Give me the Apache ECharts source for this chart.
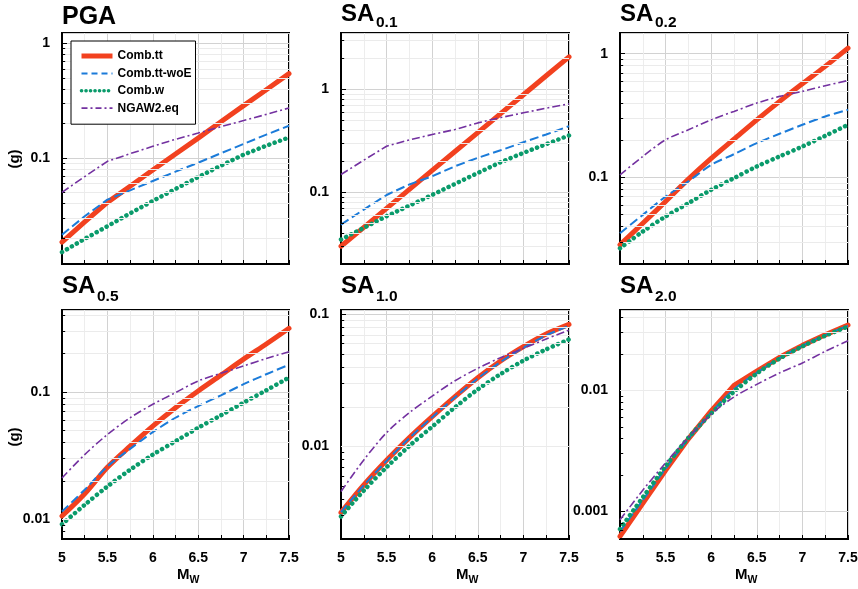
<!DOCTYPE html>
<html><head><meta charset="utf-8">
<script src="https://cdn.jsdelivr.net/npm/echarts@6.0.0/dist/echarts.min.js"></script>
<style>html,body{margin:0;padding:0;background:#fff}#c{width:858px;height:589px}</style>
</head><body><div id="c"></div>
<script>
// ---------- data ----------
const mags = [5, 5.25, 5.5, 5.75, 6, 6.25, 6.5, 6.75, 7, 7.25, 7.5];
const seriesNames = ['Comb.tt', 'Comb.tt-woE', 'Comb.w', 'NGAW2.eq'];
const panelNames = ['PGA', 'SA', 'SA', 'SA', 'SA', 'SA'];
const panelPeriods = ['', '0.1', '0.2', '0.5', '1.0', '2.0'];
const xTitleMain = 'M';
const xTitleSub = 'W';
const yTitle = '(g)';

const pgaCombTT   = [0.0185, 0.0277, 0.0410, 0.0566, 0.0785, 0.1084, 0.149, 0.207, 0.286, 0.394, 0.544];
const pgaCombTTwoE= [0.0214, 0.031, 0.0433, 0.0522, 0.063, 0.076, 0.091, 0.110, 0.1325, 0.160, 0.191];
const pgaCombW    = [0.0151, 0.0197, 0.0254, 0.0329, 0.0422, 0.0537, 0.0682, 0.0857, 0.107, 0.128, 0.151];
const pgaNGAW2    = [0.0502, 0.0688, 0.0935, 0.109, 0.1264, 0.1455, 0.165, 0.1875, 0.212, 0.240, 0.273];

const sa01CombTT   = [0.0298, 0.0455, 0.0697, 0.1065, 0.163, 0.249, 0.3806, 0.582, 0.890, 1.361, 2.08];
const sa01CombTTwoE= [0.0484, 0.0678, 0.094, 0.119, 0.143, 0.179, 0.216, 0.256, 0.307, 0.365, 0.44];
const sa01CombW    = [0.0346, 0.045, 0.0584, 0.0741, 0.0942, 0.1205, 0.154, 0.196, 0.2415, 0.294, 0.357];
const sa01NGAW2    = [0.1486, 0.205, 0.2806, 0.3236, 0.3645, 0.408, 0.473, 0.533, 0.593, 0.658, 0.725];

const sa02CombTT   = [0.02854, 0.0427, 0.064, 0.0969, 0.1425, 0.204, 0.292, 0.412, 0.572, 0.79, 1.11];
const sa02CombTTwoE= [0.0355, 0.0499, 0.0701, 0.0929, 0.1265, 0.1544, 0.1896, 0.2255, 0.2665, 0.311, 0.352];
const sa02CombW    = [0.0268, 0.0366, 0.0484, 0.062, 0.0795, 0.0988, 0.1228, 0.148, 0.178, 0.217, 0.2665];
const sa02NGAW2    = [0.105, 0.148, 0.2017, 0.243, 0.292, 0.342, 0.399, 0.452, 0.496, 0.551, 0.608];

const sa05CombTT   = [0.0106, 0.01585, 0.0256, 0.0375, 0.0539, 0.0752, 0.1018, 0.1355, 0.181, 0.238, 0.316];
const sa05CombTTwoE= [0.0115, 0.01706, 0.026, 0.0357, 0.0483, 0.0627, 0.0775, 0.094, 0.115, 0.1378, 0.1634];
const sa05CombW    = [0.00914, 0.01298, 0.0181, 0.0245, 0.0322, 0.041, 0.0523, 0.0655, 0.0824, 0.103, 0.1298];
const sa05NGAW2    = [0.0211, 0.0322, 0.0463, 0.0627, 0.080, 0.0988, 0.122, 0.140, 0.160, 0.183, 0.207];

const sa10CombTT   = [0.00317, 0.00513, 0.00788, 0.0117, 0.01686, 0.0239, 0.0332, 0.0444, 0.057, 0.071, 0.084];
const sa10CombTTwoE= [0.0032, 0.0051, 0.0078, 0.0116, 0.0167, 0.0236, 0.0328, 0.0437, 0.0560, 0.0695, 0.0820];
const sa10CombW    = [0.00296, 0.00465, 0.00698, 0.01012, 0.01416, 0.01982, 0.0271, 0.0354, 0.0447, 0.0544, 0.0647];
const sa10NGAW2    = [0.00457, 0.00793, 0.01276, 0.01807, 0.0241, 0.0315, 0.0391, 0.0471, 0.0554, 0.0652, 0.0762];

const sa20CombTT   = [0.000625, 0.00117, 0.00219, 0.00398, 0.00678, 0.011, 0.01439, 0.01873, 0.0235, 0.0287, 0.0346];
const sa20CombTTwoE= [0.000686, 0.001245, 0.00226, 0.00398, 0.00657, 0.0102, 0.01394, 0.0185, 0.02335, 0.0285, 0.0342];
const sa20CombW    = [0.000718, 0.00131, 0.00236, 0.00406, 0.00644, 0.00975, 0.01377, 0.01827, 0.02304, 0.0282, 0.0336];
const sa20NGAW2    = [0.000855, 0.0015, 0.00252, 0.0041, 0.00637, 0.00882, 0.0112, 0.01393, 0.01682, 0.02097, 0.02565];

const yMins = [0.0119, 0.02, 0.02, 0.007, 0.002, 0.000594];
const yMaxs = [1.23, 3.55, 1.47, 0.44, 0.108, 0.046];
const xMin = 5, xMax = 7.5, xStep = 0.5;

// ---------- layout & style ----------
const FONT = '"Liberation Sans", Arial, Helvetica, sans-serif';
const panelData = [
  [pgaCombTT, pgaCombTTwoE, pgaCombW, pgaNGAW2],
  [sa01CombTT, sa01CombTTwoE, sa01CombW, sa01NGAW2],
  [sa02CombTT, sa02CombTTwoE, sa02CombW, sa02NGAW2],
  [sa05CombTT, sa05CombTTwoE, sa05CombW, sa05NGAW2],
  [sa10CombTT, sa10CombTTwoE, sa10CombW, sa10NGAW2],
  [sa20CombTT, sa20CombTTwoE, sa20CombW, sa20NGAW2]
];
const boxes = [
  {left: 62, top: 33, width: 227, height: 231},
  {left: 341, top: 33, width: 228, height: 231},
  {left: 620, top: 33, width: 228, height: 231},
  {left: 62, top: 310, width: 227, height: 229},
  {left: 341, top: 310, width: 228, height: 229},
  {left: 620, top: 310, width: 228, height: 229}
];
const lineStyles = [
  {color: '#f2411f', width: 5, type: 'solid', cap: 'round', join: 'round'},
  {color: '#1b7bd9', width: 2, type: [9, 4]},
  {color: '#0a9b6b', width: 4.5, type: [0.1, 5.6], cap: 'round'},
  {color: '#7331a0', width: 1.6, type: [8, 3, 2, 3]}
];
const legendLineStyles = [
  {color: '#f2411f', width: 5, type: 'solid', cap: 'butt'},
  {color: '#1b7bd9', width: 2, type: [6, 4]},
  {color: '#0a9b6b', width: 3.6, type: [0.1, 4.4], cap: 'round'},
  {color: '#7331a0', width: 1.8, type: [6, 3, 2, 3]}
];
const smoothPanels = [false, false, true, true, true, true];

function minorValues(lo, hi) {
  const out = [];
  for (let d = Math.floor(Math.log10(lo)); d <= Math.ceil(Math.log10(hi)); d++) {
    for (let k = 2; k <= 9; k++) {
      const v = k * Math.pow(10, d);
      if (v > lo * 1.001 && v < hi * 0.999) out.push(v);
    }
  }
  return out;
}
function powLabel(v) {
  const e = Math.log10(v);
  if (Math.abs(e - Math.round(e)) < 1e-6) return String(parseFloat(v.toPrecision(6)));
  return '';
}

const grids = [], xAxes = [], yAxes = [], series = [], graphics = [];
boxes.forEach((b, i) => {
  const bottomRow = i >= 3;
  grids.push(Object.assign({show: true, borderColor: '#000', borderWidth: 2, backgroundColor: 'transparent',
    containLabel: false, outerBoundsMode: 'none'}, b));
  xAxes.push({
    type: 'value', gridIndex: i, min: xMin, max: xMax, interval: xStep,
    axisLine: {show: true, onZero: false, lineStyle: {color: '#000', width: 2}},
    axisTick: {show: true, inside: true, length: 4, lineStyle: {color: '#000', width: 1}},
    minorTick: {show: true, splitNumber: 2, length: 4, lineStyle: {color: '#000', width: 1}},
    splitLine: {show: true, lineStyle: {color: '#d2d2d2', width: 1}},
    minorSplitLine: {show: true, lineStyle: {color: '#ededed', width: 1}},
    axisLabel: {show: bottomRow, color: '#000', fontSize: 14, fontWeight: 'bold', fontFamily: FONT, margin: 12,
      formatter: v => String(v)}
  });
  yAxes.push({
    type: 'log', logBase: 10, gridIndex: i, min: yMins[i], max: yMaxs[i],
    axisLine: {show: true, onZero: false, lineStyle: {color: '#000', width: 2}},
    axisTick: {show: true, inside: true, length: 5, lineStyle: {color: '#000', width: 1}},
    splitLine: {show: true, lineStyle: {color: '#d2d2d2', width: 1}},
    axisLabel: {show: true, color: '#000', fontSize: 14, fontWeight: 'bold', fontFamily: FONT, margin: 12,
      showMinLabel: false, showMaxLabel: false, formatter: powLabel}
  });
  const minors = minorValues(yMins[i], yMaxs[i]);
  // minor horizontal grid lines of the log axis
  series.push({
    type: 'line', xAxisIndex: i, yAxisIndex: i, data: [], z: 1, silent: true, symbol: 'none',
    markLine: {silent: true, symbol: ['none', 'none'], label: {show: false}, animation: false,
      lineStyle: {color: '#ebebeb', width: 1, type: 'solid'}, emphasis: {disabled: true},
      data: minors.map(v => ({yAxis: v}))}
  });
  // minor inside ticks on the log axis
  series.push({
    type: 'line', xAxisIndex: i, yAxisIndex: i, data: [], z: 1, silent: true, symbol: 'none',
    markLine: {silent: true, symbol: ['none', 'none'], label: {show: false}, animation: false,
      lineStyle: {color: '#000', width: 1, type: 'solid'}, emphasis: {disabled: true},
      data: minors.map(v => [{coord: [xMin, v]}, {coord: [xMin + 0.035, v]}])}
  });
  panelData[i].forEach((arr, j) => {
    const st = lineStyles[j];
    series.push({
      type: 'line', name: seriesNames[j], xAxisIndex: i, yAxisIndex: i,
      data: mags.map((m, k) => [m, arr[k]]),
      symbol: 'none', showSymbol: false, z: 2 + j,
      smooth: (smoothPanels[i] && !(i === 5 && j === 0)) ? 0.3 : false,
      color: st.color,
      lineStyle: {color: st.color, width: st.width, type: st.type, cap: st.cap || 'butt', join: st.join || 'bevel'},
      emphasis: {disabled: true}, animation: false
    });
  });
  const dy = bottomRow ? 272 : 0;
  if (panelPeriods[i] === '') {
    graphics.push({type: 'text', x: b.left, y: 17.2 + dy, z: 100,
      style: {text: panelNames[i], fontSize: 25, fontWeight: 'bold', fontFamily: FONT, fill: '#000', align: 'left', verticalAlign: 'middle'}});
  } else {
    graphics.push({type: 'text', x: b.left, y: 14.5 + dy, z: 100,
      style: {text: panelNames[i], fontSize: 24, fontWeight: 'bold', fontFamily: FONT, fill: '#000', align: 'left', verticalAlign: 'middle'}});
    graphics.push({type: 'text', x: b.left + 35, y: 22.5 + dy + (bottomRow ? 2 : 0), z: 100,
      style: {text: panelPeriods[i], fontSize: 15.5, fontWeight: 'bold', fontFamily: FONT, fill: '#000', align: 'left', verticalAlign: 'middle'}});
  }
  if (bottomRow) {
    graphics.push({type: 'text', x: b.left + 115, y: 575.3, z: 100,
      style: {text: xTitleMain, fontSize: 15, fontWeight: 'bold', fontFamily: FONT, fill: '#000', align: 'left', verticalAlign: 'middle'}});
    graphics.push({type: 'text', x: b.left + 127.5, y: 580.3, z: 100,
      style: {text: xTitleSub, fontSize: 10.5, fontWeight: 'bold', fontFamily: FONT, fill: '#000', align: 'left', verticalAlign: 'middle'}});
  }
  if (i === 0 || i === 3) {
    graphics.push({type: 'text', x: 15, y: i === 0 ? 159 : 437, rotation: Math.PI / 2, z: 100,
      style: {text: yTitle, fontSize: 15, fontWeight: 'bold', fontFamily: FONT, fill: '#000', align: 'center', verticalAlign: 'middle'}});
  }
});

const chart = echarts.init(document.getElementById('c'), null, {renderer: 'canvas'});
chart.setOption({
  animation: false,
  backgroundColor: '#fff',
  grid: grids,
  xAxis: xAxes,
  yAxis: yAxes,
  legend: {
    show: true, orient: 'vertical', left: 71, top: 41,
    data: seriesNames.map((n, j) => ({name: n, itemStyle: {opacity: 0}, lineStyle: legendLineStyles[j]})),
    itemWidth: 31, itemHeight: 14, itemGap: 5.4, padding: [9, 4, 10, 8],
    itemStyle: {opacity: 0},
    backgroundColor: '#fff', borderColor: '#000', borderWidth: 1, borderRadius: 0,
    selectedMode: false, z: 50,
    textStyle: {fontSize: 12, fontWeight: 'bold', color: '#000', fontFamily: FONT}
  },
  tooltip: {show: false},
  series: series,
  graphic: {elements: graphics}
});
</script>
</body></html>
